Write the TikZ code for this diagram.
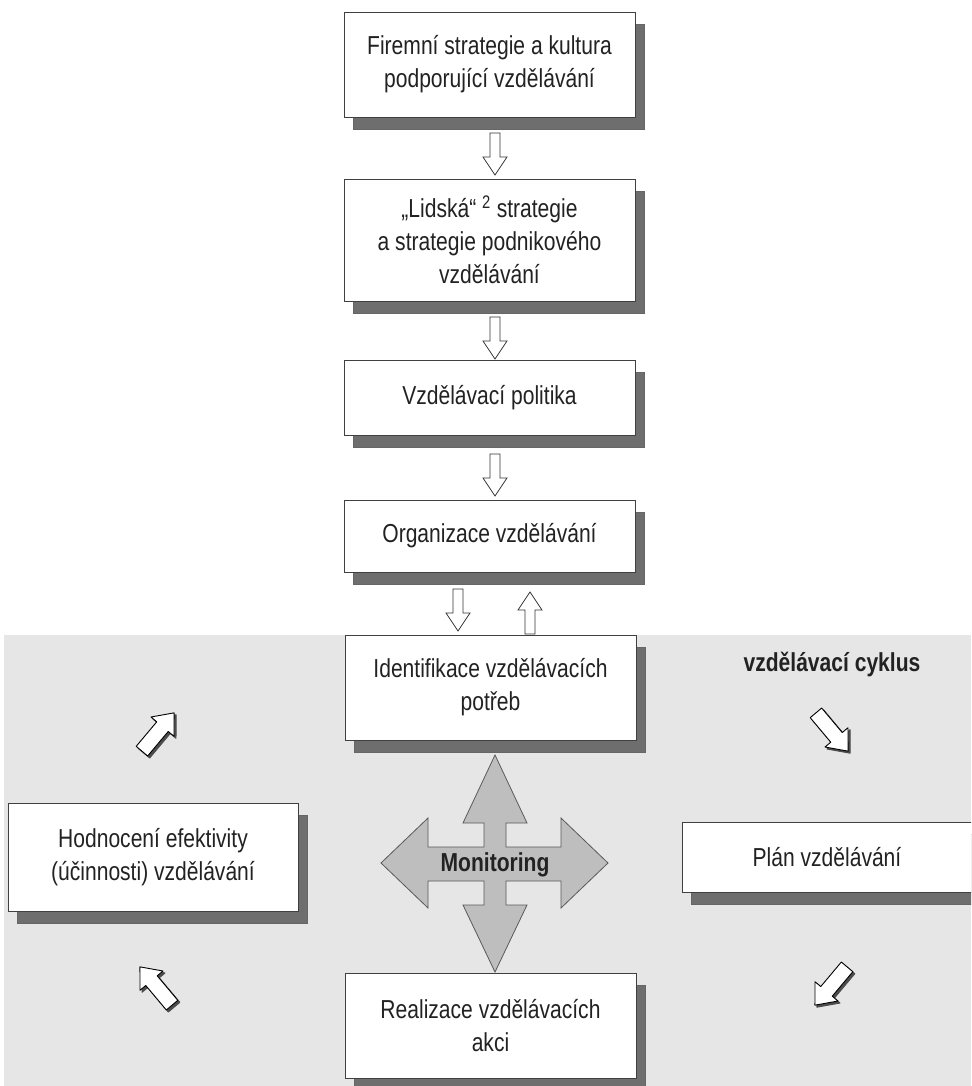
\documentclass[tikz,border=0pt]{standalone}
\usepackage{fontspec}
\setmainfont{Liberation Sans}[FakeStretch=0.81]
\usetikzlibrary{shadows}
\definecolor{bg}{HTML}{E6E6E6}
\definecolor{shade}{HTML}{6E6E6E}
\definecolor{mon}{HTML}{BEBEBE}
\definecolor{txt}{HTML}{222222}
\tikzset{
  pics/barrow/.style n args={4}{code={
    \path[pic actions] ({-#1/2},{-#2}) -- ({#1/2-#4},{-#2}) -- ({#1/2-#4},{-#3}) -- ({#1/2},0)
      -- ({#1/2-#4},{#3}) -- ({#1/2-#4},{#2}) -- ({-#1/2},{#2}) -- cycle;
  }},
  box/.style={draw=black!75, line width=0.8pt, fill=white, align=center, inner sep=0pt,
    text=txt, font=\fontsize{26}{33}\selectfont,
    drop shadow={shadow xshift=9pt, shadow yshift=-12pt, fill=shade, draw=black!60, opacity=1}},
  smallarrow/.style={draw=black!80, fill=white, line width=0.8pt, line join=miter},
  diagshadow/.style={draw=black!70, fill=black!70, line width=1pt, line join=round},
  diagarrow/.style={draw=black, fill=white, line width=0.9pt, line join=round},
  label/.style={text=txt, font=\fontsize{26}{33}\selectfont\bfseries, inner sep=0pt}
}
\begin{document}
\begin{tikzpicture}[x=1pt,y=-1pt]
\useasboundingbox (0,0) rectangle (971,1086);
\clip (0,0) rectangle (971,1086);
\fill[white] (0,0) rectangle (971,1086);
% grey cycle region
\fill[bg] (4,635) rectangle (971,1086);

% boxes
\node[box, minimum width=291pt, minimum height=105pt] (b1) at (489.5,64.5) {Firemní strategie a kultura\\podporující vzdělávání};
\node[box, minimum width=291pt, minimum height=122pt] (b2) at (489.5,240) {„Lidská“ \textsuperscript{2} strategie\\a strategie podnikového\\vzdělávání};
\node[box, minimum width=291pt, minimum height=75pt] (b3) at (489.5,397.5) {Vzdělávací politika};
\node[box, minimum width=291pt, minimum height=72pt] (b4) at (489.5,536) {Organizace vzdělávání};
\node[box, minimum width=291pt, minimum height=105pt] (b5) at (490.5,687.5) {Identifikace vzdělávacích\\potřeb};
\node[box, minimum width=290pt, minimum height=108pt] (b6) at (153,857) {Hodnocení efektivity\\(účinnosti) vzdělávání};
\node[box, minimum width=290pt, minimum height=70pt] (b7) at (827,857) {Plán vzdělávání};
\node[box, minimum width=291pt, minimum height=105pt] (b8) at (490.5,1025.5) {Realizace vzdělávacích\\akci};

\node[label] (cyk) at (832,664) {vzdělávací cyklus};

% small hollow arrows in the top column
\pic[smallarrow, rotate=-90] at (495,154) {barrow={42}{5}{12}{18}};
\pic[smallarrow, rotate=-90] at (495,338) {barrow={42}{5}{12}{18}};
\pic[smallarrow, rotate=-90] at (495,475) {barrow={42}{5}{12}{18}};
\pic[smallarrow, rotate=-90] at (458,610) {barrow={42}{5}{12}{18}};
\pic[smallarrow, rotate=90] at (530,613) {barrow={42}{5}{12}{18}};

% diagonal cycle arrows
\pic[diagshadow, rotate=50] at (160,734) {barrow={50}{7.5}{15}{18}};
\pic[diagarrow, rotate=50] at (158,732) {barrow={50}{7.5}{15}{18}};
\pic[diagshadow, rotate=-50] at (834,734) {barrow={50}{7.5}{15}{18}};
\pic[diagarrow, rotate=-50] at (832,732) {barrow={50}{7.5}{15}{18}};
\pic[diagshadow, rotate=130] at (158,988) {barrow={50}{7.5}{15}{18}};
\pic[diagarrow, rotate=130] at (156,986) {barrow={50}{7.5}{15}{18}};
\pic[diagshadow, rotate=230] at (833,988) {barrow={50}{7.5}{15}{18}};
\pic[diagarrow, rotate=230] at (831,986) {barrow={50}{7.5}{15}{18}};

% monitoring cross
\draw[fill=mon, draw=black!65, line width=0.8pt, line join=miter]
  (495,755) -- (527,823) -- (506,823) -- (506,847) -- (561,847) -- (561,818) -- (608,863)
  -- (561,908) -- (561,881) -- (506,881) -- (506,905) -- (527,905) -- (495,972)
  -- (463,905) -- (484,905) -- (484,881) -- (428,881) -- (428,908) -- (381,863)
  -- (428,818) -- (428,847) -- (484,847) -- (484,823) -- (463,823) -- cycle;
\node[label] (mon) at (495,865) {Monitoring};
\end{tikzpicture}
\end{document}
